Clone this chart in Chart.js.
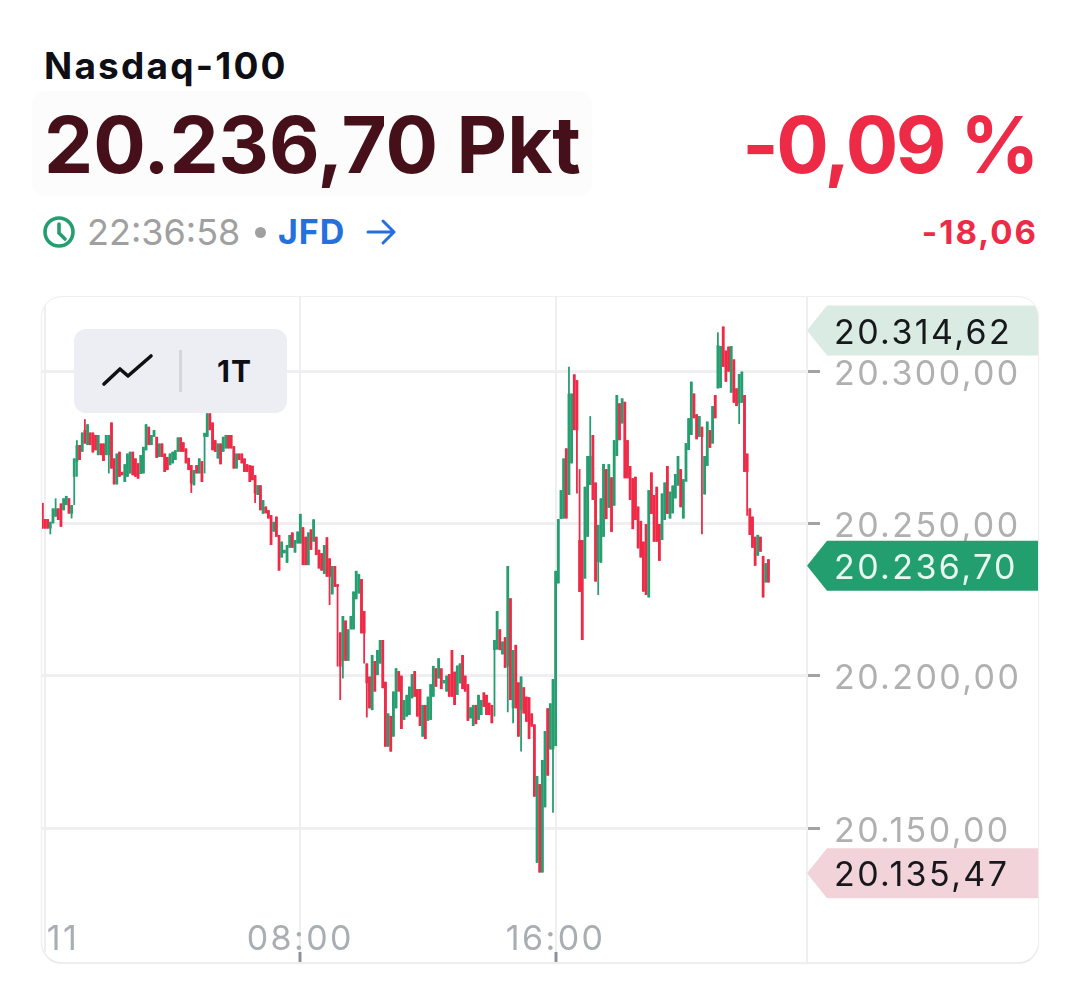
<!DOCTYPE html>
<html lang="de">
<head>
  <meta charset="UTF-8" />
  <title>Nasdaq-100</title>
  <script src="https://cdn.jsdelivr.net/npm/chart.js"></script>
  <style>
    html, body { margin: 0; padding: 0; background: #fff; }
    body { width: 1080px; height: 987px; position: relative; overflow: hidden; font-family: 'Inter', sans-serif; }
    .abs { position: absolute; white-space: nowrap; }
    #name { left: 44px; top: 43px; font-size: 37px; line-height: 46px; font-weight: 700; color: #0d0f14; letter-spacing: 2.2px; }
    #priceBox { left: 32px; top: 91px; width: 560px; height: 105px; background: #fcfcfc; border-radius: 14px; }
    #price { left: 44px; top: 98px; font-size: 78px; line-height: 94px; font-weight: 700; color: #451019; }
    #pct { right: 43px; top: 98px; font-size: 78px; line-height: 94px; font-weight: 700; color: #ee2b47; letter-spacing: -2.4px; }
    #time { left: 87px; top: 210px; font-size: 36px; line-height: 44px; color: #a0a0a0; }
    #dot { left: 255px; top: 227px; width: 11px; height: 11px; border-radius: 50%; background: #a0a0a0; }
    #src { left: 278px; top: 210px; font-size: 34px; line-height: 44px; font-weight: 700; color: #2470dc; letter-spacing: 1px; }
    #chg { right: 42px; top: 210px; font-size: 33px; line-height: 44px; font-weight: 700; color: #ee2b47; letter-spacing: 2px; }
    #card { left: 42px; top: 297px; width: 996px; height: 665px; border-radius: 20px; overflow: hidden; background: #fff;
            box-shadow: 0 0 0 1px #efefef, 0 1px 2px rgba(0,0,0,.25); }
    #chart { position: absolute; left: -1px; top: 0; }
    #axisFoot { position: absolute; left: 764px; top: 655px; width: 2px; height: 10px; background: #efeff1; }
    #tools { left: 74px; top: 329px; width: 213px; height: 84px; background: #eceef4; border-radius: 12px; }
    #tools i { position: absolute; left: 105px; top: 21px; width: 3px; height: 42px; background: #d5d6da; }
    #tools b { position: absolute; left: 143px; top: 24px; font-size: 30px; line-height: 36px; color: #0d0f14; letter-spacing: 1px; }
    #tools svg { position: absolute; left: 22px; top: 20px; }
  </style>
</head>
<body>
  <div class="abs" id="name">Nasdaq-100</div>
  <div class="abs" id="priceBox"></div>
  <div class="abs" id="price">20.236,70 Pkt</div>
  <div class="abs" id="pct">-0,09 %</div>
  <svg class="abs" style="left:42px;top:215px" width="34" height="34" viewBox="0 0 34 34" fill="none" stroke="#249e6f" stroke-width="3.6" stroke-linecap="round">
    <circle cx="17" cy="17" r="14"/><path d="M17 9v9l6 6"/>
  </svg>
  <div class="abs" id="time">22:36:58</div>
  <div class="abs" id="dot"></div>
  <div class="abs" id="src">JFD</div>
  <svg class="abs" style="left:364px;top:217px" width="34" height="30" viewBox="0 0 34 30" fill="none" stroke="#2470dc" stroke-width="3" stroke-linecap="round" stroke-linejoin="round">
    <path d="M4 15h26M19 4l11 11-11 11"/>
  </svg>
  <div class="abs" id="chg">-18,06</div>

  <div class="abs" id="card"><canvas id="chart" width="998" height="665"></canvas><div id="axisFoot"></div></div>

  <div class="abs" id="tools">
    <svg width="60" height="44" viewBox="0 0 60 44" fill="none" stroke="#111" stroke-width="3.6" stroke-linecap="round" stroke-linejoin="round">
      <path d="M8 35L24 20l8 7 23-20"/>
    </svg>
    <i></i><b>1T</b>
  </div>

  <script>
    // all candle values are points above this base
    const BASE = 20000;

    const opens = [
      256.7,251.4,251.4,248.3,250.0,252.2,254.9,256.5,254.3,256.0,
      258.2,253.2,265.3,270.2,275.7,273.5,280.6,275.7,279.8,279.8,
      279.0,272.4,276.2,276.2,272.4,272.4,283.1,271.3,262.8,273.5,
      266.9,263.6,265.3,266.4,273.5,271.3,269.7,266.2,266.4,274.0,
      281.7,275.7,278.4,278.4,271.8,276.2,272.9,271.8,269.1,269.7,
      270.8,273.5,278.2,276.6,274.6,271.5,269.1,262.5,269.1,266.4,
      270.4,278.4,278.4,286.1,283.1,277.3,271.3,276.2,273.5,274.6,
      279.0,279.0,275.3,268.0,272.9,272.9,271.3,269.4,269.1,268.9,
      265.8,259.3,262.5,253.2,255.5,254.3,252.7,247.3,252.2,246.2,
      238.8,240.2,237.1,242.0,247.0,240.4,243.4,243.4,248.7,245.6,
      236.3,248.0,244.0,245.6,241.3,240.2,233.4,245.4,238.5,226.7,
      236.0,230.0,214.2,204.9,218.1,204.9,215.2,215.2,225.1,227.0,
      231.7,221.2,204.0,199.7,188.7,204.8,200.2,204.0,211.7,198.0,
      176.7,186.8,180.0,189.3,201.5,200.0,185.5,186.6,187.1,192.6,
      201.5,195.6,195.6,180.0,190.4,185.2,185.5,193.1,202.4,199.1,
      202.4,197.5,194.8,200.5,208.4,201.3,193.7,197.5,206.8,200.0,
      197.2,186.0,183.5,190.4,185.5,187.1,194.5,193.7,191.1,190.4,
      208.4,208.6,215.2,207.0,212.6,203.0,225.4,189.3,210.1,197.8,
      188.7,196.2,193.1,192.9,187.6,184.0,138.6,164.4,135.4,156.8,
      189.3,175.8,175.8,176.9,230.3,251.4,251.6,274.6,259.3,269.7,
      298.9,297.0,244.5,244.5,231.9,245.6,262.6,279.0,263.4,237.4,
      237.1,245.6,267.8,255.1,265.1,255.8,272.1,289.4,282.8,289.9,
      277.3,268.8,264.8,265.3,255.5,250.8,244.0,249.8,225.7,266.7,
      259.3,262.0,249.8,244.5,251.1,268.8,251.6,253.3,258.2,262.4,
      267.8,251.6,263.7,274.1,279.0,292.6,285.8,278.4,281.7,259.5,
      268.9,280.6,276.2,292.1,294.3,294.5,314.6,306.7,308.0,292.9,
      303.8,294.3,289.4,289.6,292.1,272.9,254.9,252.2,245.6,239.4,
      245.6,239.3,230.6,238.2
    ];
    const closes = [
      248.3,248.3,248.3,250.5,254.9,254.9,251.1,248.9,258.2,259.0,
      253.2,256.0,271.3,275.7,270.8,279.8,276.2,282.5,275.7,273.3,
      274.0,279.0,272.4,270.5,279.0,279.0,268.0,262.8,272.9,265.3,
      265.8,269.4,272.9,273.5,265.8,265.3,264.7,272.4,275.1,282.5,
      275.7,279.0,280.6,271.5,276.2,271.8,266.9,267.5,272.9,273.5,
      274.0,278.2,273.5,273.5,269.7,267.5,263.1,267.5,266.4,271.3,
      263.6,279.7,286.1,280.6,274.0,273.5,276.2,269.4,278.4,279.0,
      274.6,274.6,268.0,272.9,270.8,269.7,266.9,266.9,263.6,264.2,
      259.8,262.5,254.3,257.6,253.3,251.6,242.9,250.5,245.6,234.5,
      244.0,241.3,242.9,246.2,242.0,244.5,247.3,253.1,236.3,236.3,
      247.0,241.3,251.3,239.6,235.2,234.5,242.9,232.5,232.5,236.0,
      229.2,229.2,203.0,219.6,204.9,215.2,219.6,227.6,234.4,233.4,
      213.9,213.9,197.5,189.3,206.8,194.8,208.4,211.7,195.9,176.7,
      187.6,175.1,194.8,202.4,194.8,182.5,192.0,193.7,196.4,200.5,
      193.1,186.6,183.5,190.4,179.2,193.1,197.2,203.2,196.4,205.7,
      195.6,198.6,200.0,193.1,193.1,190.4,203.3,204.0,195.6,194.8,
      185.2,189.6,190.4,184.1,193.7,192.0,189.8,187.1,187.1,184.4,
      211.7,221.2,208.4,211.2,202.6,236.0,192.0,208.4,189.3,180.0,
      199.7,187.6,184.9,179.2,183.3,160.3,167.1,135.4,172.3,181.8,
      167.2,190.9,198.9,234.4,251.4,260.9,271.3,251.6,292.6,292.6,
      280.6,280.6,227.5,211.7,262.0,272.1,272.1,257.7,230.9,249.5,
      258.2,269.5,251.4,269.4,247.2,277.3,292.1,277.3,291.0,264.8,
      264.8,257.7,248.1,251.1,241.8,238.8,227.6,226.5,260.9,253.1,
      244.0,244.0,237.7,259.8,263.4,253.1,260.4,262.4,266.2,272.1,
      255.3,264.5,276.3,284.5,296.5,284.5,277.6,285.2,278.4,272.1,
      283.4,274.8,288.5,284.5,308.5,308.2,301.4,296.5,299.8,308.2,
      289.6,288.5,299.0,299.8,266.9,266.9,246.2,242.0,236.1,246.2,
      240.7,225.7,236.9,230.6
    ];
    // only the candles with a visible wick, by candle number
    const wickHighs = {5:258.2,13:277.3,16:284.2,198:301.4,202:267.8,206:285.2,254:312.7};
    const wickLows = {3:246.4,11:251.6,12:256.0,13:265.3,25:266.4,56:260.0,61:266.4,80:256.7,108:223.2,111:203.0,
      112:192.0,113:199.1,121:204.0,122:186.3,170:186.6,175:188.0,177:184.4,180:175.1,192:155.0,201:259.8,
      209:226.5,248:246.4,262:282.6,265:252.5};

    const timeTickLabels = { '00:00': '   11', '08:00': '08:00', '16:00': '16:00' };
    const priceStep = 50;
    const lastPrice = 20236.70, dayHigh = 20314.62, dayLow = 20135.47;

    const UP = '#269e70', DOWN = '#ee2a47';

    // 5 minute slots, starting one slot before midnight
    const labels = [];
    for (let i = 0; i < 288; i++) {
      const m = (i - 1 + 1440 * 5) * 5 % 1440;
      labels.push(String(Math.floor(m / 60)).padStart(2, '0') + ':' + String(m % 60).padStart(2, '0'));
    }

    const fmt = v => v.toLocaleString('de-DE', { minimumFractionDigits: 2, maximumFractionDigits: 2 });
    const barColors = opens.map((o, i) => closes[i] >= o ? UP : DOWN);
    const bodies = opens.map((o, i) => [BASE + o, BASE + closes[i]]);
    const wicks = opens.map((o, i) => [
      BASE + (wickLows[i] !== undefined ? wickLows[i] : Math.min(o, closes[i])),
      BASE + (wickHighs[i] !== undefined ? wickHighs[i] : Math.max(o, closes[i]))
    ]);

    // tabular digits of the original run wider than plain Inter
    const wideDigits = {
      id: 'wideDigits',
      beforeDraw(chart) { chart.ctx.letterSpacing = '2.4px'; }
    };

    const priceTags = {
      id: 'priceTags',
      afterDraw(chart) {
        const ctx = chart.ctx, y = chart.scales.y, left = chart.chartArea.right;
        const tags = [
          { v: dayHigh, bg: '#d9ebe2', fg: '#16181c', dy: 4 },
          { v: lastPrice, bg: '#239e6f', fg: '#e8f8f0', dy: 2 },
          { v: dayLow, bg: '#f2d3da', fg: '#16181c', dy: 1 }
        ];
        tags.forEach(t => {
          const c = y.getPixelForValue(t.v) + t.dy;
          ctx.save();
          ctx.fillStyle = t.bg;
          ctx.beginPath();
          ctx.moveTo(left, c);
          ctx.lineTo(left + 20, c - 25);
          ctx.lineTo(chart.width, c - 25);
          ctx.lineTo(chart.width, c + 25);
          ctx.lineTo(left + 20, c + 25);
          ctx.closePath();
          ctx.fill();
          ctx.fillStyle = t.fg;
          ctx.font = '34px Inter';
          ctx.textBaseline = 'middle';
          ctx.fillText(fmt(t.v), left + 27, c + 3);
          ctx.restore();
        });
      }
    };

    new Chart(document.getElementById('chart'), {
      type: 'bar',
      data: {
        labels,
        datasets: [
          { data: wicks, backgroundColor: barColors, barThickness: 1.8, inflateAmount: 0, order: 2 },
          { data: bodies, backgroundColor: barColors, barThickness: 2.8, inflateAmount: 0, order: 1 }
        ]
      },
      plugins: [wideDigits, priceTags],
      options: {
        responsive: false,
        animation: false,
        layout: { padding: 0 },
        plugins: { legend: { display: false }, tooltip: { enabled: false } },
        datasets: { bar: { grouped: false } },
        scales: {
          x: {
            offset: true,
            afterBuildTicks: s => { s.ticks = s.ticks.filter(t => timeTickLabels[labels[t.value]]); },
            afterFit: s => { s.height = 10; s.paddingLeft = 0; s.paddingRight = 0; },
            grid: {
              offset: false,
              color: '#efeff1',
              lineWidth: 2,
              tickLength: 10,
              tickWidth: 3,
              tickColor: c => c.index === 0 ? 'transparent' : '#8d919b'
            },
            border: { display: false },
            ticks: {
              autoSkip: false,
              maxRotation: 0,
              mirror: true,
              padding: -8,
              color: '#a9adb4',
              font: { family: 'Inter', size: 34 },
              callback(v) { return timeTickLabels[labels[v]]; }
            }
          },
          y: {
            position: 'right',
            min: 20109.3,
            max: 20324.3,
            afterFit: s => { s.width = 232; s.paddingTop = 0; s.paddingBottom = 0; },
            grid: { color: '#efeff1', lineWidth: 3, tickLength: 13, tickWidth: 3, tickColor: '#a3a3a3' },
            border: { color: '#efeff1', width: 2 },
            ticks: {
              stepSize: priceStep,
              includeBounds: false,
              padding: 14,
              labelOffset: 3.5,
              color: '#b0b0b0',
              font: { family: 'Inter', size: 34 },
              callback: fmt
            }
          }
        }
      }
    });
  </script>
</body>
</html>
